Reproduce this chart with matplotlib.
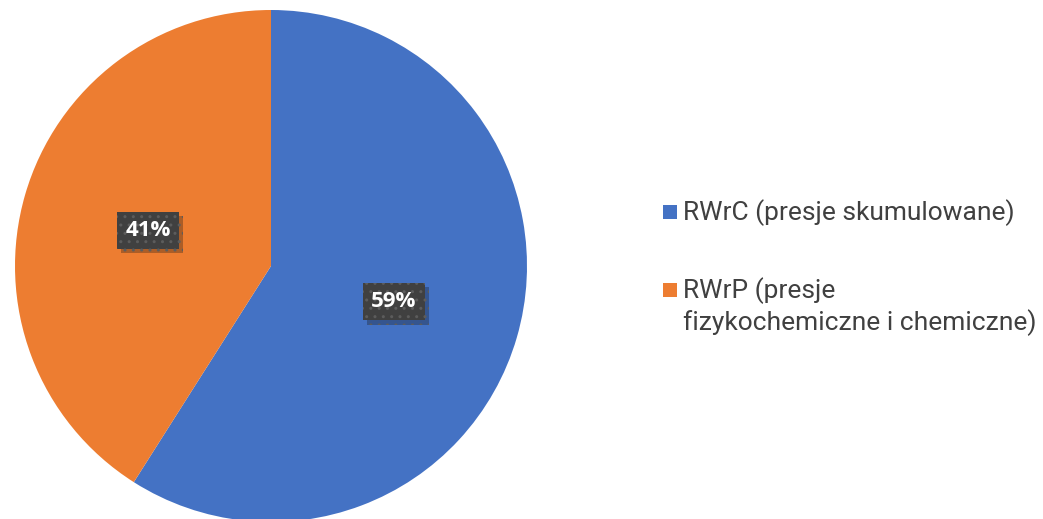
import matplotlib
matplotlib.use("Agg")
import matplotlib.pyplot as plt
import matplotlib.patheffects as pe
from matplotlib.patches import Rectangle

labels = ["RWrC (presje skumulowane)", "RWrP (presje\nfizykochemiczne i chemiczne)"]
values = [59, 41]
colors = ["#4472C4", "#ED7D31"]

W, H = 1043, 519
fig = plt.figure(figsize=(W / 100, H / 100), dpi=100)
cx, cy, r = 271, 266, 256
ax = fig.add_axes([(cx - r) / W, (H - cy - r) / H, 2 * r / W, 2 * r / H])

plt.rcParams['hatch.linewidth'] = 1.0
plt.rcParams['hatch.color'] = "#5c5c5c"
wedges, texts, autotexts = ax.pie(values, colors=colors, startangle=90, counterclock=False,
                                  radius=1, autopct='%1.0f%%', pctdistance=0.5,
                                  wedgeprops=dict(linewidth=0), frame=True)
ax.set_xlim(-1, 1)
ax.set_ylim(-1, 1)
ax.axis("off")
for t in autotexts:
    t.set_color("white")
    t.set_fontsize(16)
    t.set_fontweight("bold")
    t.set_fontfamily("Open Sans")
    t.set_bbox(dict(boxstyle="square,pad=0.37", facecolor="#404040", edgecolor="#5c5c5c",
                    linewidth=0, hatch=".."))
    t.get_bbox_patch().set_path_effects([pe.SimplePatchShadow(offset=(3, -3), alpha=0.3),
                                         pe.Normal()])

# legend drawn manually (marker aligned with first line of each label)
leg_x, sq = 663, 14
baselines = [220, 298]
line_step = 32
for lab, col, base in zip(labels, colors, baselines):
    fig.patches.append(Rectangle((leg_x / W, (H - base + 1) / H), sq / W, sq / H,
                                 transform=fig.transFigure, facecolor=col, edgecolor="none"))
    for i, line in enumerate(lab.split("\n")):
        fig.text(683 / W, (H - base - i * line_step) / H, line, family="Roboto", fontsize=19,
                 color="#404040", va="baseline", ha="left")

fig.savefig("out.png", dpi=100)
